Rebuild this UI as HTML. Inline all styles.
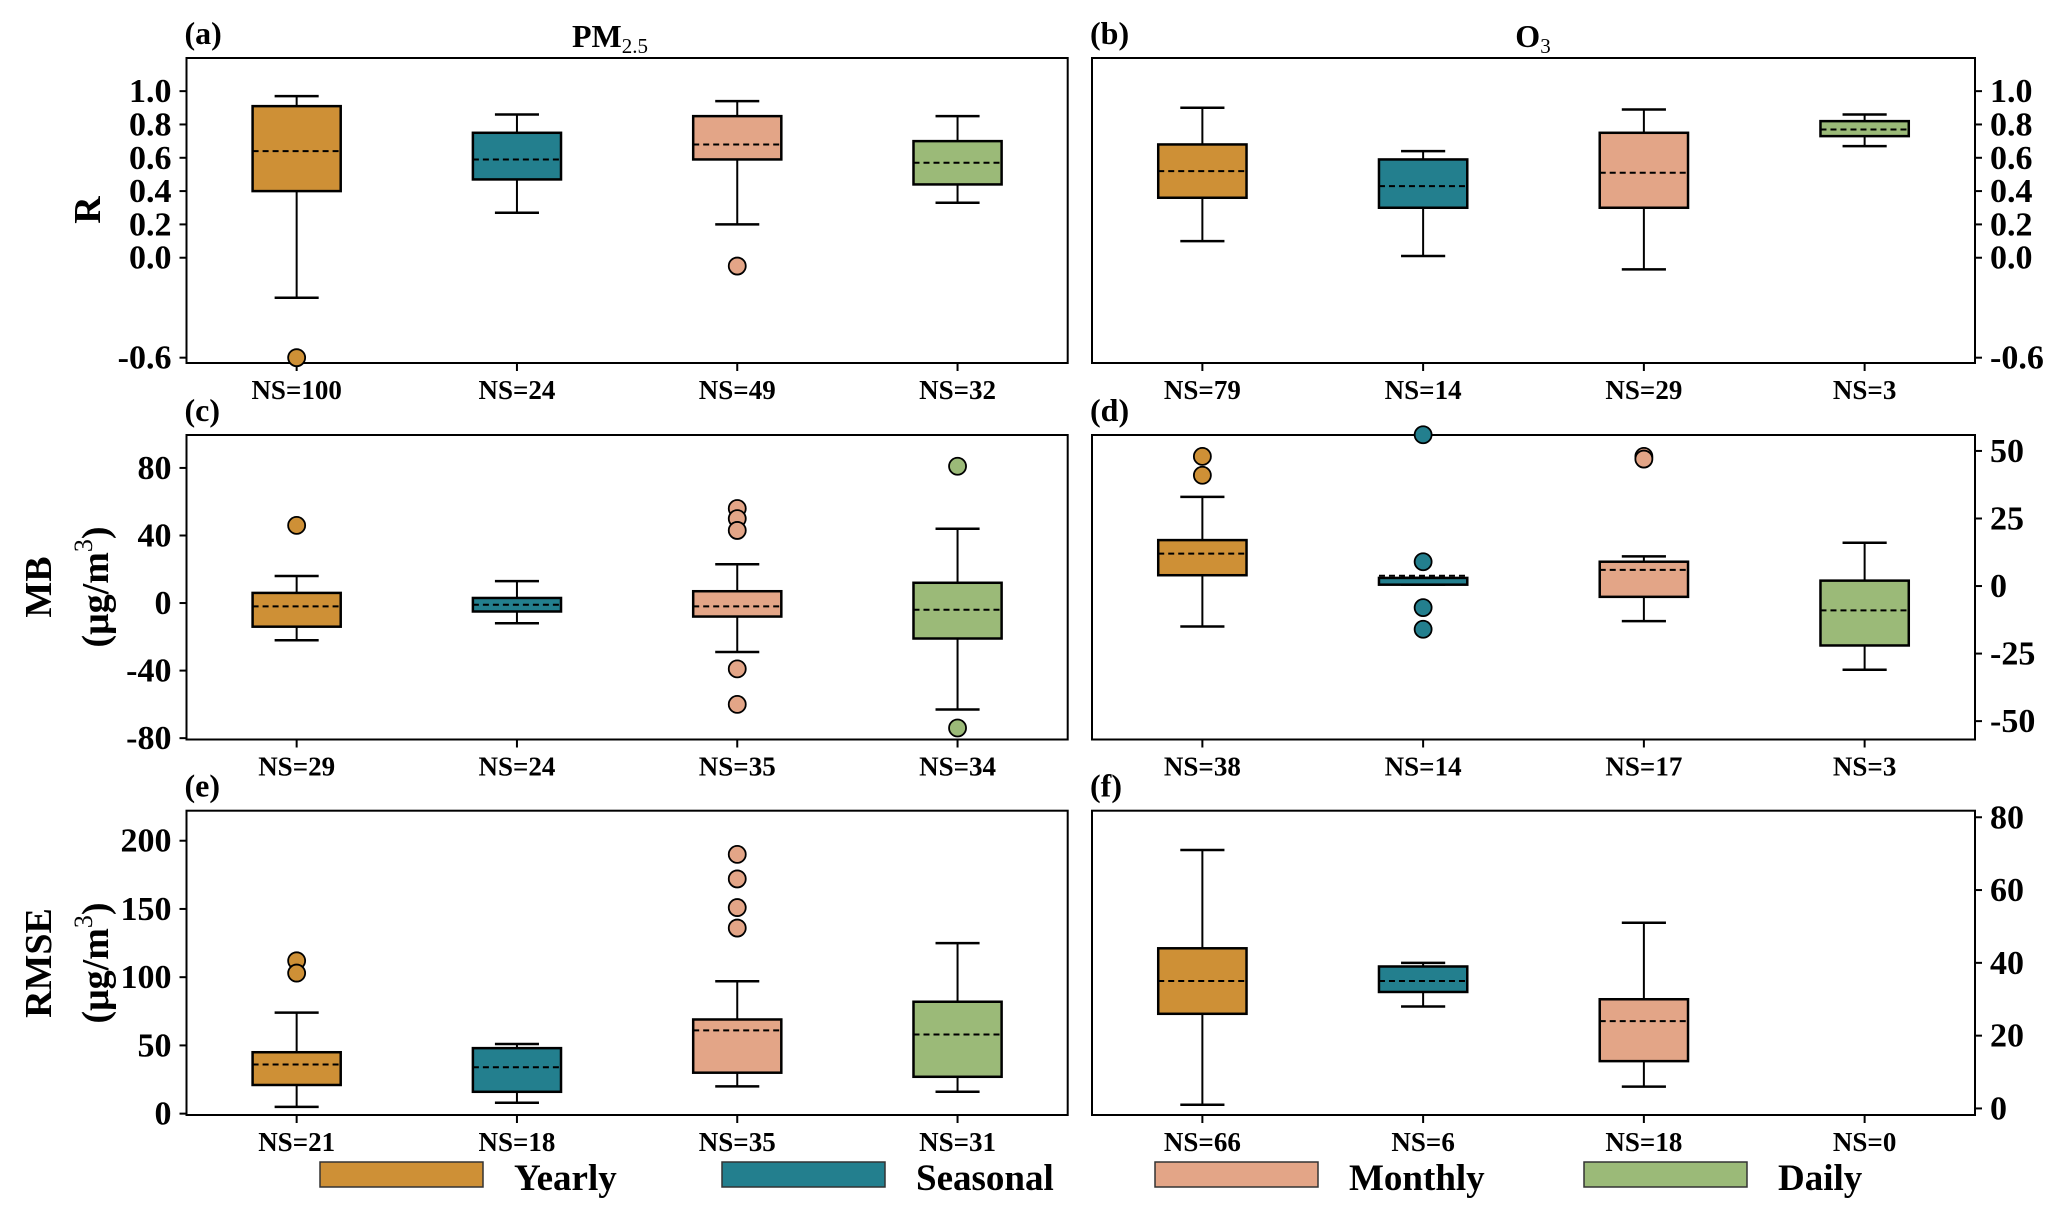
<!DOCTYPE html>
<html><head><meta charset="utf-8"><style>
html,body{margin:0;padding:0;background:#fff;}
svg{display:block;font-family:"Liberation Serif",serif;font-weight:bold;}
</style></head><body>
<svg id="chart" width="2067" height="1222" viewBox="0 0 2067 1222" xmlns="http://www.w3.org/2000/svg"></svg>
<script>
const categories = ["Yearly","Seasonal","Monthly","Daily"];
const colors = ["#CE9036","#237F8E","#E3A587","#9BBA78"];
// each box: [whiskerLow, q1, mean, q3, whiskerHigh]
const aBoxes = [[-0.24,0.40,0.64,0.91,0.97],[0.27,0.47,0.59,0.75,0.86],[0.20,0.59,0.68,0.85,0.94],[0.33,0.44,0.57,0.70,0.85]];
const aOut = [[-0.6],[],[-0.05],[]];
const aNS = [100,24,49,32];
const bBoxes = [[0.10,0.36,0.52,0.68,0.90],[0.01,0.30,0.43,0.59,0.64],[-0.07,0.30,0.51,0.75,0.89],[0.67,0.73,0.77,0.82,0.86]];
const bOut = [[],[],[],[]];
const bNS = [79,14,29,3];
const cBoxes = [[-22,-14,-2,6,16],[-12,-5,-1,3,13],[-29,-8,-2,7,23],[-63,-21,-4,12,44]];
const cOut = [[46],[],[56,50,43,-39,-60],[81,-74]];
const cNS = [29,24,35,34];
const dBoxes = [[-15,4,12,17,33],[0.5,0.5,3.8,3,3],[-13,-4,6,9,11],[-31,-22,-9,2,16]];
const dOut = [[48,41],[56,9,-8,-16],[48,47],[]];
const dNS = [38,14,17,3];
const eBoxes = [[5,21,36,45,74],[8,16,34,48,51],[20,30,61,69,97],[16,27,58,82,125]];
const eOut = [[112,103],[],[190,172,151,136],[]];
const eNS = [21,18,35,31];
const fBoxes = [[1,26,35,44,71],[28,32,35,39,40],[6,13,24,30,51],null];
const fOut = [[],[],[],[]];
const fNS = [66,6,18,0];
const rTicks = [1.0,0.8,0.6,0.4,0.2,0.0,-0.6];
const rTickLabels = ["1.0","0.8","0.6","0.4","0.2","0.0","-0.6"];
const cTicks = [80,40,0,-40,-80];
const dTicks = [50,25,0,-25,-50];
const eTicks = [200,150,100,50,0];
const fTicks = [80,60,40,20,0];

const svg = document.getElementById('chart');
const NS='http://www.w3.org/2000/svg';
function mk(tag, attrs, parent){const e=document.createElementNS(NS,tag);for(const k in attrs)e.setAttribute(k,attrs[k]);(parent||svg).appendChild(e);return e;}

const cols = [[186.5,1067.7],[1092,1975]];
const rows = [[58,363],[435,739.5],[810.7,1115]];
const panels = [
 {id:'a',c:0,r:0,dom:[-0.632,1.199],boxes:aBoxes,out:aOut,ns:aNS,ticks:rTicks,labels:rTickLabels,side:'left'},
 {id:'b',c:1,r:0,dom:[-0.632,1.199],boxes:bBoxes,out:bOut,ns:bNS,ticks:rTicks,labels:rTickLabels,side:'right'},
 {id:'c',c:0,r:1,dom:[-80.8,99.5],boxes:cBoxes,out:cOut,ns:cNS,ticks:cTicks,side:'left'},
 {id:'d',c:1,r:1,dom:[-56.8,55.9],boxes:dBoxes,out:dOut,ns:dNS,ticks:dTicks,side:'right'},
 {id:'e',c:0,r:2,dom:[-1,222],boxes:eBoxes,out:eOut,ns:eNS,ticks:eTicks,side:'left'},
 {id:'f',c:1,r:2,dom:[-1.8,81.8],boxes:fBoxes,out:fOut,ns:fNS,ticks:fTicks,side:'right'}
];
panels.forEach(p=>{
 const [x0,x1]=cols[p.c],[y0,y1]=rows[p.r];
 const g=mk('g',{});
 
 
 const ys=v=>y1-(v-p.dom[0])/(p.dom[1]-p.dom[0])*(y1-y0);
 const xs=i=>x0+(i+0.5)/4*(x1-x0);
 const bw=0.4/4*(x1-x0);
 mk('rect',{x:x0,y:y0,width:x1-x0,height:y1-y0,fill:'none',stroke:'#000','stroke-width':2},g);
 const pl=mk('text',{x:x0-2,y:y0-14,'font-size':32},g);pl.textContent='('+p.id+')';
 
 
 p.ticks.forEach((t,k)=>{
   const y=ys(t);
   const ax=p.side==='left'?x0:x1, dir=p.side==='left'?-1:1;
   mk('line',{x1:ax,x2:ax+dir*7,y1:y,y2:y,stroke:'#000','stroke-width':2},g);
   const tx=mk('text',{x:ax+dir*15,y:y+11,'font-size':34,'text-anchor':p.side==='left'?'end':'start'},g);
   tx.textContent=p.labels?p.labels[k]:String(t);
   
   
 });
 categories.forEach((cat,i)=>{
   const cx=xs(i);
   mk('line',{x1:cx,x2:cx,y1:y1,y2:y1+8,stroke:'#000','stroke-width':2},g);
   const nt=mk('text',{x:cx,y:y1+36,'font-size':27,'text-anchor':'middle'},g);
   nt.textContent='NS='+p.ns[i];
   
   
   const b=p.boxes[i];
   if(b){
     const bg=mk('g',{},g);
     
     
     const cap=bw*0.5;
     mk('line',{x1:cx,x2:cx,y1:ys(b[0]),y2:ys(b[1]),stroke:'#000','stroke-width':2},bg);
     mk('line',{x1:cx,x2:cx,y1:ys(b[3]),y2:ys(b[4]),stroke:'#000','stroke-width':2},bg);
     mk('line',{x1:cx-cap/2,x2:cx+cap/2,y1:ys(b[0]),y2:ys(b[0]),stroke:'#000','stroke-width':2.5},bg);
     mk('line',{x1:cx-cap/2,x2:cx+cap/2,y1:ys(b[4]),y2:ys(b[4]),stroke:'#000','stroke-width':2.5},bg);
     const top=Math.min(ys(b[1]),ys(b[3])),h=Math.abs(ys(b[1])-ys(b[3]));
     mk('rect',{x:cx-bw/2,y:top,width:bw,height:Math.max(h,2),fill:colors[i],stroke:'#000','stroke-width':2.5},bg);
     mk('line',{x1:cx-bw/2,x2:cx+bw/2,y1:ys(b[2]),y2:ys(b[2]),stroke:'#000','stroke-width':2,'stroke-dasharray':'6,4'},bg);
   }
   p.out[i].forEach(v=>{
     const o=mk('ellipse',{cx:cx,cy:ys(v),rx:8.5,ry:8.5,fill:colors[i],stroke:'#000','stroke-width':1.8},g);
     
     
   });
 });
});
// titles
const t1=mk('text',{x:610,y:47,'font-size':32,'text-anchor':'middle'});


t1.innerHTML='PM<tspan font-size="21" dy="6" font-weight="normal">2.5</tspan>';
const t2=mk('text',{x:1533,y:47,'font-size':32,'text-anchor':'middle'});


t2.innerHTML='O<tspan font-size="21" dy="6" font-weight="normal">3</tspan>';
// y labels
function ylab(lines,cy,name){
 const g=mk('g',{});
 
 
 lines.forEach((l,k)=>{
   const x=(lines.length===1?100:51+k*57);
   const t=mk('text',{x:x,y:cy,'font-size':38,'text-anchor':'middle',transform:'rotate(-90 '+x+' '+cy+')'},g);
   t.innerHTML=l;
 });
}
ylab(['R'],210,'y-axis-title-r');
ylab(['MB','(μg/m<tspan dy="-16" font-size="26" font-weight="normal">3</tspan><tspan dy="16">)</tspan>'],587,'y-axis-title-mb');
ylab(['RMSE','(μg/m<tspan dy="-16" font-size="26" font-weight="normal">3</tspan><tspan dy="16">)</tspan>'],963,'y-axis-title-rmse');
// legend
const legX=[320,722,1155,1584];
categories.forEach((c,i)=>{
 const g=mk('g',{});
 
 
 mk('rect',{x:legX[i],y:1162,width:163,height:25,fill:colors[i],stroke:'#333','stroke-width':1.5},g);
 const t=mk('text',{x:legX[i]+194,y:1190,'font-size':37},g);
 t.textContent=c;
});
</script>
</body></html>
